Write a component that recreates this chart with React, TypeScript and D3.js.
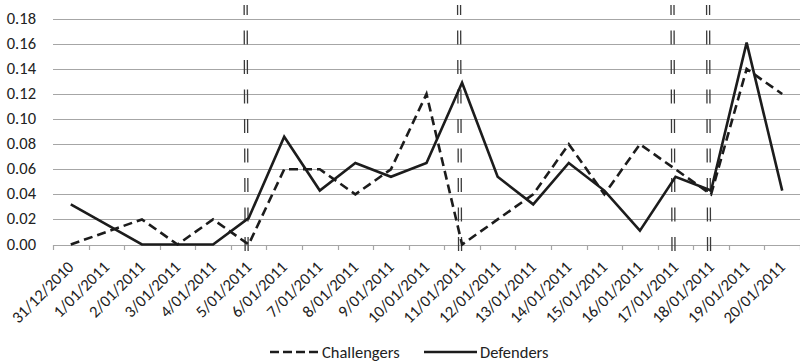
import React from "react";
import * as d3 from "d3";

const categories = [
  "31/12/2010", "1/01/2011", "2/01/2011", "3/01/2011", "4/01/2011", "5/01/2011",
  "6/01/2011", "7/01/2011", "8/01/2011", "9/01/2011", "10/01/2011", "11/01/2011",
  "12/01/2011", "13/01/2011", "14/01/2011", "15/01/2011", "16/01/2011", "17/01/2011",
  "18/01/2011", "19/01/2011", "20/01/2011",
];
const challengers = [0, 0.01, 0.02, 0, 0.02, 0, 0.06, 0.06, 0.04, 0.06, 0.12, 0, 0.02, 0.04, 0.08, 0.04, 0.08, 0.06, 0.04, 0.14, 0.12];
const defenders = [0.032, 0.016, 0, 0, 0, 0.021, 0.086, 0.043, 0.065, 0.054, 0.065, 0.129, 0.054, 0.032, 0.065, 0.043, 0.011, 0.054, 0.043, 0.161, 0.043];
const yTicks = [0, 0.02, 0.04, 0.06, 0.08, 0.1, 0.12, 0.14, 0.16, 0.18];
const eventDates = ["5/01/2011", "11/01/2011", "17/01/2011", "18/01/2011"];
const seriesNames = ["Challengers", "Defenders"];

const FONT = "Carlito, 'Open Sans', sans-serif";

export default function App() {
  const W = 800, H = 364;
  const x = d3.scaleBand<string>().domain(categories).range([53, 800]);
  const y = d3.scaleLinear().domain([0, 0.18]).range([244.5, 18.8]);
  const cx = (c: string) => (x(c) as number) + x.bandwidth() / 2;
  const line = d3
    .line<number>()
    .x((_, i) => cx(categories[i]))
    .y((d) => y(d));
  const tickXs = categories.map((c) => x(c) as number).concat([800]);
  const gridColor = "#a6a6a6";
  const lineColor = "#1c1c1c";
  const fs = 16.5;

  return (
    <svg width={W} height={H} style={{ position: "absolute", left: 0, top: 0, background: "#fff" }} fontFamily={FONT}>
      {yTicks.map((t) => (
        <g key={t}>
          <line x1={53} x2={800} y1={Math.round(y(t)) + 0.5} y2={Math.round(y(t)) + 0.5} stroke={gridColor} strokeWidth={1.2} />
          <text x={36} y={y(t) + 5} textAnchor="end" fontSize={fs} fill="#222">
            {t.toFixed(2)}
          </text>
        </g>
      ))}
      {tickXs.map((tx, i) => (
        <line key={i} x1={Math.round(tx) + 0.5} x2={Math.round(tx) + 0.5} y1={245} y2={250} stroke={gridColor} strokeWidth={1.2} />
      ))}
      {categories.map((c) => (
        <text
          key={c}
          transform={`translate(${cx(c) + 4},${268}) rotate(-45)`}
          textAnchor="end"
          fontSize={fs}
          fill="#222"
        >
          {c}
        </text>
      ))}
      {eventDates.map((c) => {
        const xc = cx(c) - 3;
        return (
          <g key={c} stroke="#3a3a3a" strokeWidth={1.3} strokeDasharray="14,15.5" strokeDashoffset={4}>
            <line x1={xc - 1.5} x2={xc - 0.5} y1={5} y2={254} />
            <line x1={xc + 1.5} x2={xc + 2.5} y1={5} y2={254} />
          </g>
        );
      })}
      <path d={line(challengers) || ""} fill="none" stroke={lineColor} strokeWidth={2.6} strokeDasharray="9,5" strokeLinejoin="miter" />
      <path d={line(defenders) || ""} fill="none" stroke={lineColor} strokeWidth={2.6} strokeLinejoin="miter" />
      <g>
        <line x1={270} x2={318} y1={352} y2={352} stroke={lineColor} strokeWidth={2.6} strokeDasharray="9,4" />
        <text x={322} y={358} fontSize={fs} fill="#222">{seriesNames[0]}</text>
        <line x1={424} x2={477} y1={352} y2={352} stroke={lineColor} strokeWidth={2.6} />
        <text x={480} y={358} fontSize={fs} fill="#222">{seriesNames[1]}</text>
      </g>
    </svg>
  );
}
